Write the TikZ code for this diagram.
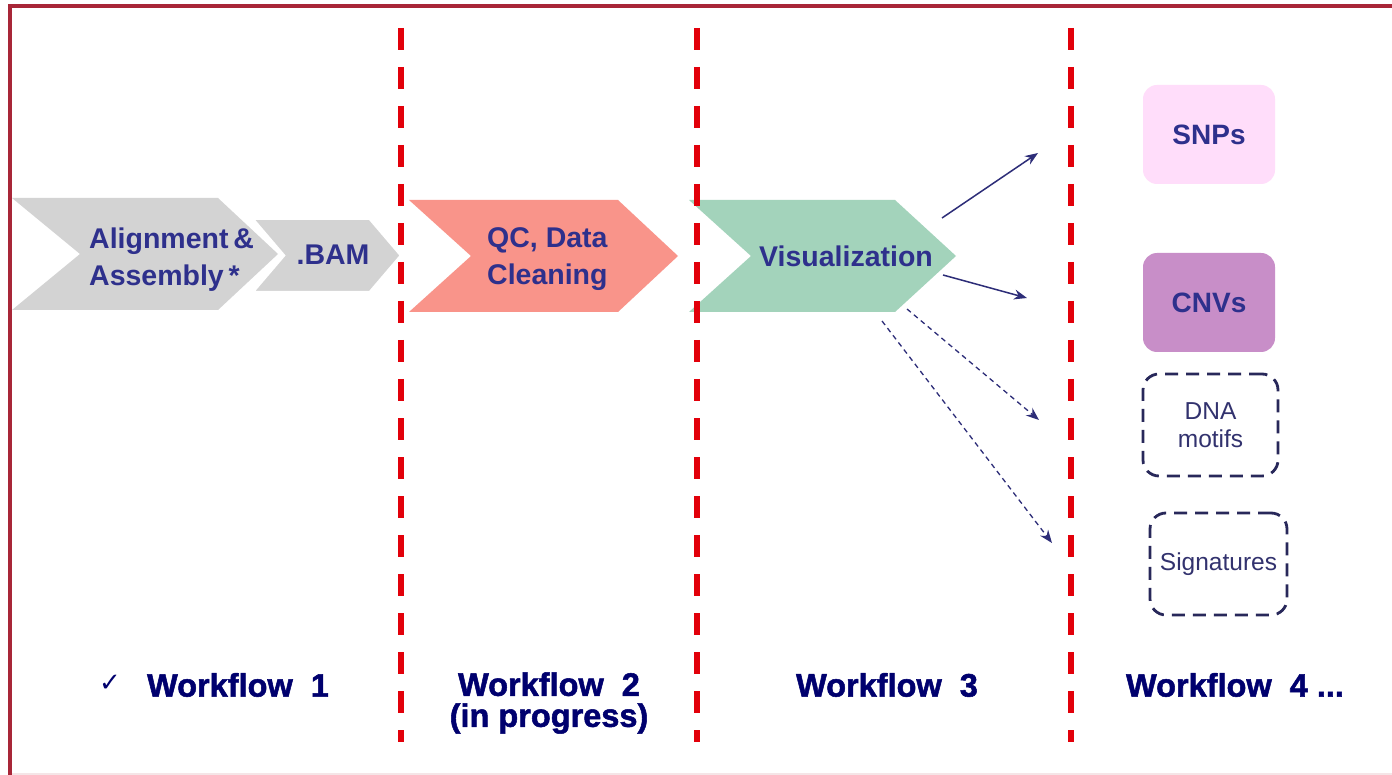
\documentclass[tikz,border=0pt]{standalone}
\usepackage{fontspec}
\setmainfont{Liberation Sans}
\newfontfamily\symfont{DejaVu Sans}
\newfontfamily\heavyfont[FakeBold=1.6]{Liberation Sans Bold}
\usetikzlibrary{arrows.meta}

\definecolor{framered}{RGB}{168,38,56}
\definecolor{chevgray}{RGB}{211,211,211}
\definecolor{chevsalmon}{RGB}{249,148,138}
\definecolor{chevgreen}{RGB}{163,211,187}
\definecolor{inktext}{RGB}{46,48,140}
\definecolor{wfnavy}{RGB}{0,0,110}
\definecolor{divred}{RGB}{226,0,10}
\definecolor{snpfill}{RGB}{255,221,250}
\definecolor{cnvfill}{RGB}{200,142,200}
\definecolor{arrowink}{RGB}{45,45,120}
\definecolor{boxink}{RGB}{40,40,90}
\definecolor{boxtext}{RGB}{50,50,110}

\tikzset{
  framestroke/.style={draw=framered, line width=4pt},
  divider/.style={draw=divred, line width=5.5pt, dash pattern=on 22pt off 17pt},
  chevtext/.style={text=inktext, font=\fontsize{28.5}{37}\selectfont\bfseries, align=center, inner sep=0pt},
  wflabel/.style={text=wfnavy, font=\heavyfont\fontsize{32.5}{31}\selectfont, align=center, inner sep=0pt},
  solidbox/.style={rounded corners=14pt, minimum width=132pt, minimum height=99pt, inner sep=0pt,
    text=inktext, font=\fontsize{28}{30}\selectfont\bfseries},
  dashbox/.style={draw=boxink, line width=2.8pt, dash pattern=on 13pt off 8pt, rounded corners=16pt,
    inner sep=0pt, text=boxtext, font=\fontsize{24.5}{28}\selectfont, align=center},
  flow/.style={draw=arrowink, line width=1.5pt, -{Stealth[length=13pt,width=10pt]}},
  flowdash/.style={flow, line width=1.3pt, dash pattern=on 5pt off 4pt},
}

\begin{document}
\begin{tikzpicture}[x=1pt,y=-1pt]
  \useasboundingbox (0,0) rectangle (1392,775);
  \fill[white] (0,0) rectangle (1392,775);

  % outer frame
  \draw[framestroke] (1396,6.5) -- (10,6.5) -- (10,779);
  \draw[framered!12, line width=2pt] (12,774) -- (1392,774);

  % workflow 1 chevrons
  \fill[chevgray] (12,198) -- (218,198) -- (278,254) -- (218,310) -- (12,310) -- (80,254) -- cycle;
  \filldraw[fill=chevgray, draw=white, line width=4pt, line join=miter]
    (251,218) -- (370,218) -- (402,255.5) -- (370,293) -- (251,293) -- (283,255.5) -- cycle;
  \node[chevtext, align=left, anchor=west] (align) at (89,260) {Alignment\,\&\\Assembly\,*};
  \node[chevtext] (bam) at (333,255) {.BAM};

  % workflow 2 chevron
  \fill[chevsalmon] (409,200) -- (618,200) -- (678,256) -- (618,312) -- (409,312) -- (471,256) -- cycle;
  \node[chevtext, align=left, anchor=west] (qc) at (487,259) {QC, Data\\Cleaning};

  % workflow 3 chevron
  \fill[chevgreen] (689,200) -- (895,200) -- (956,256) -- (895,312) -- (689,312) -- (751,256) -- cycle;
  \node[chevtext] (vis) at (846,256) {Visualization};

  % result boxes
  \node[solidbox, fill=snpfill] (snp) at (1209,134.5) {SNPs};
  \node[solidbox, fill=cnvfill] (cnv) at (1209,302.5) {CNVs};
  \node[dashbox, minimum width=135pt, minimum height=102pt] (dna) at (1210.5,425) {DNA\\motifs};
  \node[dashbox, minimum width=137pt, minimum height=102pt] (sig) at (1218.5,564) {Signatures};

  % arrows out of the visualization step
  \coordinate (o1) at (942,218);  \coordinate (e1) at (1038,153);
  \coordinate (o2) at (943,275);  \coordinate (e2) at (1027,298);
  \coordinate (o3) at (907,309);  \coordinate (e3) at (1039,420);
  \coordinate (o4) at (882,321);  \coordinate (e4) at (1052,543);
  \draw[flow] (o1) -- (e1);
  \draw[flow] (o2) -- (e2);
  \draw[flowdash] (o3) -- (e3);
  \draw[flowdash] (o4) -- (e4);

  % stage dividers
  \draw[divider] (401,28) -- (401,742);
  \draw[divider] (697,28) -- (697,742);
  \draw[divider] (1071,28) -- (1071,742);

  % stage labels
  \node[text=wfnavy, inner sep=0pt, font=\symfont\fontsize{26}{26}\selectfont] (tick) at (110,683) {✓};
  \node[wflabel] (wf1) at (238,685) {Workflow\ \ 1};
  \node[wflabel] (wf2) at (549,703) {Workflow\ \ 2\\(in progress)};
  \node[wflabel] (wf3) at (887,685) {Workflow\ \ 3};
  \node[wflabel] (wf4) at (1235,685) {Workflow\ \ 4 ...};
\end{tikzpicture}
\end{document}
